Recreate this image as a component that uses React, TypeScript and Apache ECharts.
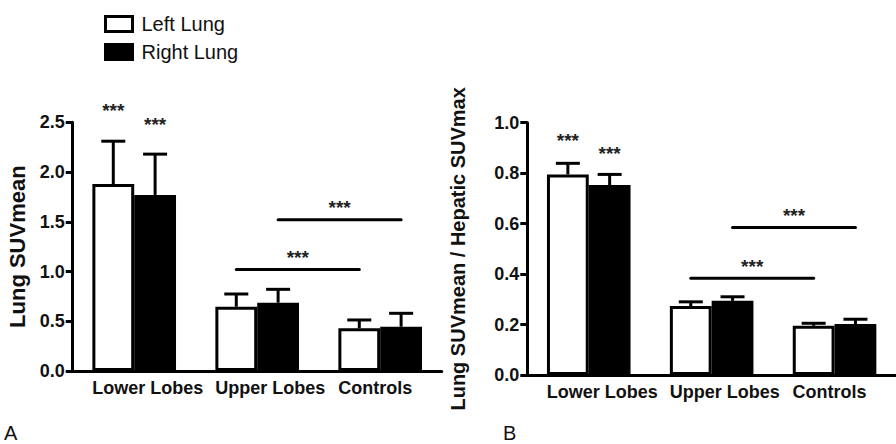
import React, { useEffect, useRef } from "react";
import * as echarts from "echarts";

// ---- data ----
const categories = ["Lower Lobes", "Upper Lobes", "Controls"];
const seriesNames = ["Left Lung", "Right Lung"];

// Panel A: Lung SUVmean
const suvLeftMean = [1.88, 0.646, 0.429];
const suvLeftSD = [0.43, 0.128, 0.084];
const suvRightMean = [1.77, 0.687, 0.445];
const suvRightSD = [0.41, 0.134, 0.135];
const suvStarLevels = [2.66, 2.52]; // "***" over lower lobes (left, right)
const suvSigLevels = [1.02, 1.52]; // bracket lines

// Panel B: Lung SUVmean / Hepatic SUVmax
const ratioLeftMean = [0.795, 0.273, 0.195];
const ratioLeftSD = [0.044, 0.017, 0.01];
const ratioRightMean = [0.753, 0.294, 0.202];
const ratioRightSD = [0.042, 0.016, 0.019];
const ratioStarLevels = [0.947, 0.895];
const ratioSigLevels = [0.383, 0.585];

// significance brackets: [fromCategory, fromSide, toCategory, toSide]
const sigPairs = [
  [1, -1, 2, -1],
  [1, 1, 2, 1],
];

const FONT = "'Liberation Sans', Arial, Helvetica, sans-serif";
const HALF = 0.17; // half of a bar width, as a share of the band

function errRender(params: any, api: any) {
  const cat = api.value(0);
  const mean = api.value(1);
  const sd = api.value(2);
  const side = api.value(3);
  const band = api.size([1, 0])[0];
  const p0 = api.coord([cat, mean]);
  const p1 = api.coord([cat, mean + sd]);
  const x = p0[0] + side * band * HALF;
  return {
    type: "group",
    children: [
      { type: "line", shape: { x1: x, y1: p0[1], x2: x, y2: p1[1] }, style: { stroke: "#000", lineWidth: 3 } },
      { type: "line", shape: { x1: x - 12, y1: p1[1], x2: x + 12, y2: p1[1] }, style: { stroke: "#000", lineWidth: 3 } },
    ],
  };
}

function starRender(params: any, api: any) {
  const cat = api.value(0);
  const level = api.value(1);
  const side = api.value(2);
  const band = api.size([1, 0])[0];
  const p = api.coord([cat, level]);
  return {
    type: "text",
    x: p[0] + side * band * HALF,
    y: p[1] + 4,
    style: { text: "***", fill: "#222", font: `bold 19px ${FONT}`, align: "center", verticalAlign: "middle" },
  };
}

function sigRender(params: any, api: any) {
  const band = api.size([1, 0])[0];
  const level = api.value(4);
  const a = api.coord([api.value(0), level]);
  const b = api.coord([api.value(2), level]);
  const xa = a[0] + api.value(1) * band * HALF;
  const xb = b[0] + api.value(3) * band * HALF;
  return {
    type: "group",
    children: [
      { type: "line", shape: { x1: xa, y1: a[1], x2: xb, y2: a[1] }, style: { stroke: "#000", lineWidth: 3, lineCap: "round" } },
      {
        type: "text",
        x: (xa + xb) / 2,
        y: a[1] - 16 + 4,
        style: { text: "***", fill: "#222", font: `bold 19px ${FONT}`, align: "center", verticalAlign: "middle" },
      },
    ],
  };
}

function panelSeries(
  idx: number,
  leftMean: number[],
  leftSD: number[],
  rightMean: number[],
  rightSD: number[],
  starLevels: number[],
  sigLevels: number[]
) {
  const errData: number[][] = [];
  categories.forEach((_, i) => {
    errData.push([i, leftMean[i], leftSD[i], -1]);
    errData.push([i, rightMean[i], rightSD[i], 1]);
  });
  return [
    {
      name: seriesNames[0],
      type: "bar",
      xAxisIndex: idx,
      yAxisIndex: idx,
      data: leftMean,
      barWidth: "34%",
      barGap: "0%",
      itemStyle: { color: "#fff", borderColor: "#000", borderWidth: 3 },
      z: 2,
    },
    {
      name: seriesNames[1],
      type: "bar",
      xAxisIndex: idx,
      yAxisIndex: idx,
      data: rightMean,
      barWidth: "34%",
      barGap: "0%",
      itemStyle: { color: "#000", borderColor: "#000", borderWidth: 3 },
      z: 2,
    },
    {
      type: "custom",
      xAxisIndex: idx,
      yAxisIndex: idx,
      renderItem: errRender,
      data: errData,
      encode: { x: 0, y: 1 },
      z: 3,
      silent: true,
    },
    {
      type: "custom",
      xAxisIndex: idx,
      yAxisIndex: idx,
      renderItem: starRender,
      data: [
        [0, starLevels[0], -1],
        [0, starLevels[1], 1],
      ],
      encode: { x: 0, y: 1 },
      clip: false,
      z: 3,
      silent: true,
    },
    {
      type: "custom",
      xAxisIndex: idx,
      yAxisIndex: idx,
      renderItem: sigRender,
      data: sigPairs.map((p, k) => [p[0], p[1], p[2], p[3], sigLevels[k]]),
      encode: { x: 0, y: 4 },
      clip: false,
      z: 3,
      silent: true,
    },
  ];
}

function xAxisFor(idx: number) {
  return {
    type: "category",
    gridIndex: idx,
    data: categories,
    axisLine: { lineStyle: { color: "#000", width: 3 } },
    axisTick: { show: false },
    axisLabel: {
      interval: 0,
      color: "#111",
      fontFamily: FONT,
      fontWeight: "bold",
      fontSize: 18,
      margin: 8,
      align: "left",
      padding: [0, 0, 0, -42],
    },
  };
}

function yAxisFor(idx: number, max: number, interval: number, name: string, nameGap: number, nameSize: number) {
  return {
    type: "value",
    gridIndex: idx,
    min: 0,
    max,
    interval,
    name,
    nameLocation: "middle",
    nameGap,
    nameTextStyle: { color: "#111", fontFamily: FONT, fontWeight: "bold", fontSize: nameSize },
    axisLine: { show: true, lineStyle: { color: "#000", width: 3 } },
    axisTick: { show: true, length: 7, lineStyle: { color: "#000", width: 3 } },
    splitLine: { show: false },
    axisLabel: {
      color: "#111",
      fontFamily: FONT,
      fontWeight: "bold",
      fontSize: 18,
      margin: 8,
      formatter: (v: number) => v.toFixed(1),
    },
  };
}

export default function App() {
  const ref = useRef<HTMLDivElement>(null);
  useEffect(() => {
    if (!ref.current) return;
    const chart = echarts.init(ref.current, undefined, { renderer: "svg" });
    chart.setOption({
      animation: false,
      backgroundColor: "#fff",
      legend: {
        orient: "vertical",
        left: 99,
        top: 9,
        itemWidth: 27,
        itemHeight: 15,
        itemGap: 8,
        selectedMode: false,
        textStyle: { color: "#111", fontFamily: FONT, fontSize: 20, padding: [0, 0, 0, 4] },
        data: [
          { name: seriesNames[0], icon: "rect", itemStyle: { color: "#fff", borderColor: "#000", borderWidth: 3 } },
          { name: seriesNames[1], icon: "rect", itemStyle: { color: "#000", borderColor: "#000", borderWidth: 3 } },
        ],
      },
      grid: [
        { left: 72.7, top: 122.3, width: 369, height: 248.7 },
        { left: 527.3, top: 122.7, width: 376.5, height: 252.3 },
      ],
      xAxis: [xAxisFor(0), xAxisFor(1)],
      yAxis: [
        yAxisFor(0, 2.5, 0.5, "Lung SUVmean", 44, 22),
        yAxisFor(1, 1.0, 0.2, "Lung SUVmean / Hepatic SUVmax", 59, 20),
      ],
      graphic: [
        { type: "text", left: 4, top: 423, style: { text: "A", fill: "#111", font: `20px ${FONT}` } },
        { type: "text", left: 503, top: 423, style: { text: "B", fill: "#111", font: `20px ${FONT}` } },
      ],
      series: [
        ...panelSeries(0, suvLeftMean, suvLeftSD, suvRightMean, suvRightSD, suvStarLevels, suvSigLevels),
        ...panelSeries(1, ratioLeftMean, ratioLeftSD, ratioRightMean, ratioRightSD, ratioStarLevels, ratioSigLevels),
      ],
    });
    return () => chart.dispose();
  }, []);
  return (
    <div
      ref={ref}
      style={{ position: "absolute", left: 0, top: 0, width: 896, height: 444, background: "#fff" }}
    />
  );
}
